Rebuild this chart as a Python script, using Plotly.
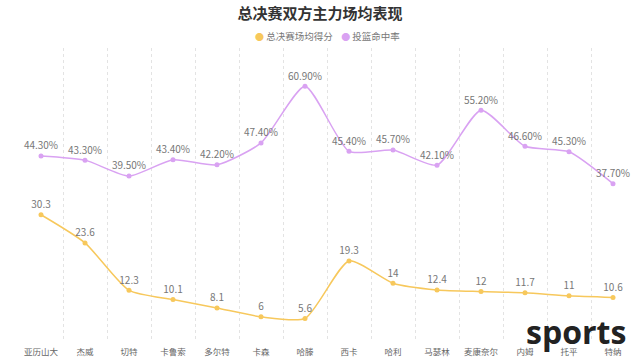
import plotly.graph_objects as go

players = ["亚历山大", "杰威", "切特", "卡鲁索", "多尔特", "卡森", "哈滕", "西卡",
           "哈利", "马瑟林", "麦康奈尔", "内姆", "托平", "特纳"]
points = [30.3, 23.6, 12.3, 10.1, 8.1, 6, 5.6, 19.3, 14, 12.4, 12, 11.7, 11, 10.6]
fg_pct = [44.3, 43.3, 39.5, 43.4, 42.2, 47.4, 60.9, 45.4, 45.7, 42.1, 55.2, 46.6, 45.3, 37.7]
series_names = ["总决赛场均得分", "投篮命中率"]

YELLOW = "#f7c85c"
PURPLE = "#d9a2f2"
FONT = "Noto Sans CJK SC"

xs = list(range(len(players)))

fig = go.Figure()
fig.add_trace(go.Scatter(
    x=xs, y=points, mode="lines+markers+text", name=series_names[0],
    line=dict(color=YELLOW, width=1.5, shape="spline", smoothing=0.6),
    marker=dict(color=YELLOW, size=5),
    text=[f"{v:g}" for v in points], textposition="top center",
    textfont=dict(color="#777", size=10, family=FONT),
    showlegend=False, hoverinfo="skip"))
fig.add_trace(go.Scatter(
    x=xs, y=fg_pct, mode="lines+markers+text", name=series_names[1],
    line=dict(color=PURPLE, width=1.5, shape="spline", smoothing=0.6),
    marker=dict(color=PURPLE, size=5),
    text=[f"{v:.2f}%" for v in fg_pct], textposition="top center",
    textfont=dict(color="#777", size=10, family=FONT),
    showlegend=False, hoverinfo="skip"))

legend_text = (f"<span style='color:{YELLOW};font-size:9px'>●</span> {series_names[0]}"
               f"    <span style='color:{PURPLE};font-size:9px'>●</span> {series_names[1]}")

fig.update_layout(
    width=640, height=363,
    margin=dict(l=19, r=5, t=48, b=21),
    paper_bgcolor="white", plot_bgcolor="white",
    font=dict(family=FONT, color="#666"),
    showlegend=False,
    title=dict(text="<b>总决赛双方主力场均表现</b>", x=0.5, xanchor="center",
               y=1 - 14 / 363, yanchor="middle", font=dict(size=15, color="#333", family=FONT)),
    xaxis=dict(range=[-0.5, len(players) - 0.5], tickvals=xs, ticktext=players,
               showgrid=False, zeroline=False, showline=False, ticks="",
               ticklabelstandoff=3,
               tickfont=dict(size=8.5, color="#666", family=FONT),
               minor=dict(tickvals=[i + 0.5 for i in xs[:-1]], showgrid=True,
                          gridcolor="#e3e3e3", griddash="dot", gridwidth=1, ticks="")),
    yaxis=dict(range=[0, 70], visible=False, showgrid=False, zeroline=False),
)
fig.add_annotation(text=legend_text, x=0.5, xref="paper", xanchor="center", xshift=0,
                   y=(363 - 36 - 21) / 294, yref="paper", yanchor="middle", showarrow=False,
                   font=dict(size=9.5, color="#777", family=FONT))
fig.add_annotation(text="<b>sports</b>", x=1.0, xref="paper", xanchor="right",
                   y=0.0, yref="paper", yanchor="middle", yshift=11, xshift=-7,
                   showarrow=False, font=dict(size=32, color="#222", family="Open Sans"))

fig.write_html("out.html", config={"displayModeBar": False},
               post_script="document.body.style.margin='0';")
